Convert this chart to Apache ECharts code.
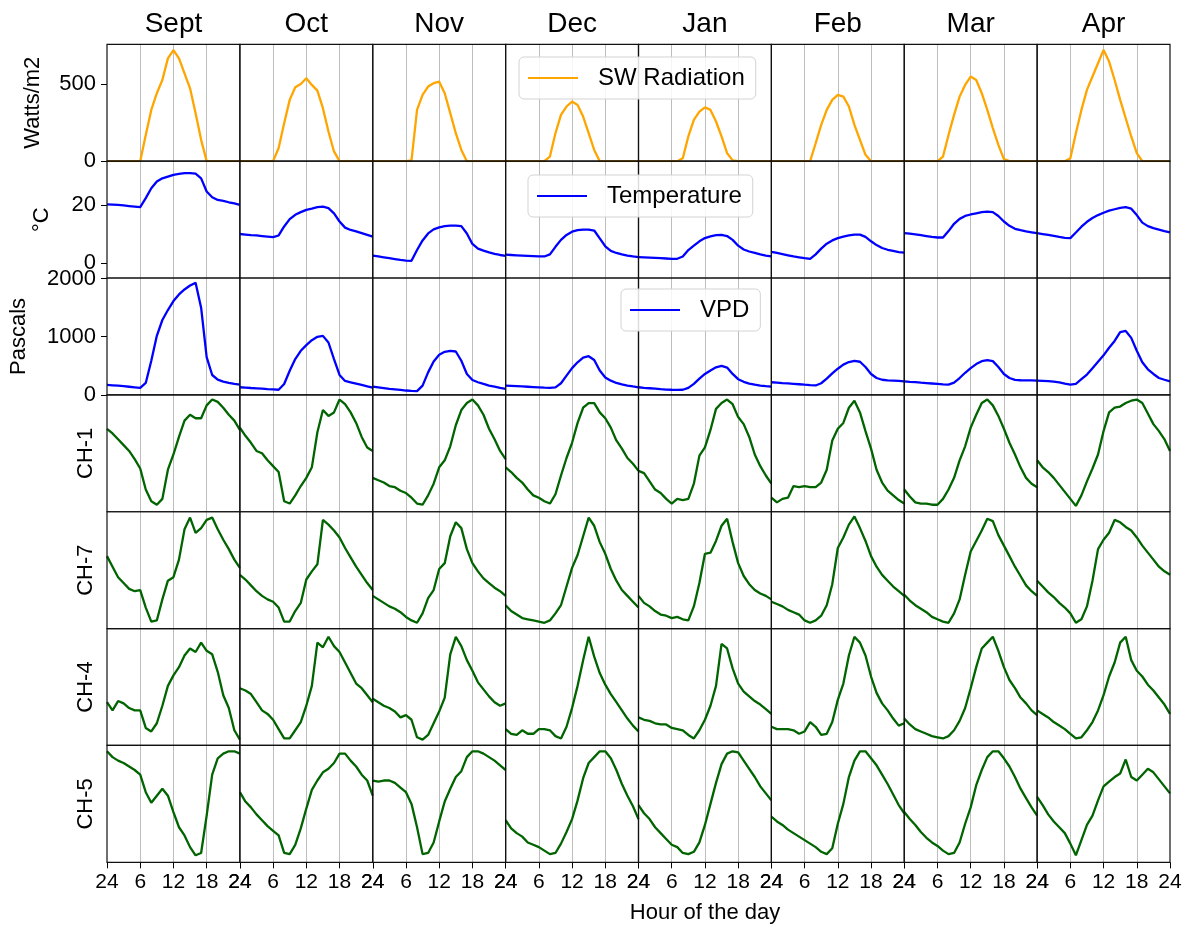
<!DOCTYPE html>
<html>
<head>
<meta charset="utf-8">
<script src="https://cdn.jsdelivr.net/npm/echarts@6/dist/echarts.min.js"></script>
<style>html,body{margin:0;padding:0;background:#fff}#chart{width:1190px;height:928px}</style>
</head>
<body>
<div id="chart"></div>
<script>
// ---------------- DATA ----------------
const months = ['Sept', 'Oct', 'Nov', 'Dec', 'Jan', 'Feb', 'Mar', 'Apr'];
const hours = [0,1,2,3,4,5,6,7,8,9,10,11,12,13,14,15,16,17,18,19,20,21,22,23,24];
const hourTicks = [0, 6, 12, 18, 24];
const hourTickLabels = ['24', '6', '12', '18', '24'];
const rowLabels = ['Watts/m2', '°C', 'Pascals', 'CH-1', 'CH-7', 'CH-4', 'CH-5'];
const swTicks = [0, 500];
const tempTicks = [0, 20];
const vpdTicks = [0, 1000, 2000];

// SW radiation (W/m2), one list per month
const swRadiation = [
  [0,0,0,0,0,0,0,170,332,440,526,666,720,666,569,472,311,138,0,0,0,0,0,0,0],
  [0,0,0,0,0,0,0,85,246,397,479,500,537,494,457,343,192,63,0,0,0,0,0,0,0],
  [0,0,0,0,0,0,0,5,332,429,483,505,515,440,311,181,73,0,0,0,0,0,0,0,0],
  [0,0,0,0,0,0,0,0,30,181,300,354,386,364,289,181,73,0,0,0,0,0,0,0,0],
  [0,0,0,0,0,0,0,0,19,160,267,321,349,332,257,160,52,5,0,0,0,0,0,0,0],
  [0,0,0,0,0,0,0,0,116,235,332,397,429,418,354,235,138,41,0,0,0,0,0,0,0],
  [0,0,0,0,0,0,0,30,170,300,418,494,548,526,440,332,214,106,13,0,0,0,0,0,0],
  [0,0,0,0,0,0,19,181,332,462,548,634,720,645,526,397,278,160,52,0,0,0,0,0,0]
];
// Air temperature (°C)
const temperature = [
  [20.2,20.1,20.0,19.8,19.6,19.4,19.2,22.3,25.7,28.0,29.1,29.7,30.3,30.6,30.9,30.9,30.7,29.1,24.6,22.6,21.7,21.4,20.9,20.5,20.0],
  [10.0,9.8,9.6,9.5,9.3,9.1,8.9,9.5,12.6,15.1,16.6,17.5,18.3,18.7,19.2,19.4,18.9,17.1,14.3,12.2,11.4,10.9,10.3,9.7,9.1],
  [2.6,2.3,2.0,1.7,1.4,1.1,0.9,0.8,4.5,7.8,10.2,11.6,12.3,12.7,12.9,12.9,12.7,10.2,6.6,5.0,4.3,3.7,3.2,2.8,2.5],
  [2.9,2.8,2.7,2.6,2.5,2.4,2.3,2.3,3.0,5.6,8.0,9.7,10.8,11.3,11.5,11.5,11.2,8.5,5.8,4.2,3.5,3.0,2.6,2.3,2.1],
  [2.1,2.0,1.9,1.8,1.7,1.6,1.5,1.5,2.3,4.5,6.0,7.5,8.6,9.2,9.6,9.7,9.3,8.0,6.0,4.7,4.0,3.5,3.0,2.6,2.3],
  [3.9,3.5,3.1,2.7,2.3,2.0,1.7,1.5,3.0,5.0,6.7,7.8,8.6,9.1,9.5,9.8,9.8,9.0,7.5,6.2,5.2,4.6,4.2,3.8,3.6],
  [10.3,10.1,9.9,9.6,9.3,9.0,8.8,8.8,11.0,13.5,15.2,16.2,16.7,17.1,17.5,17.7,17.5,16.2,14.3,12.8,11.8,11.3,10.9,10.6,10.3],
  [10.3,10.0,9.7,9.4,9.0,8.7,8.6,10.5,12.5,14.2,15.5,16.5,17.3,18.0,18.5,19.0,19.2,18.7,16.5,13.9,12.7,12.0,11.5,11.0,10.6]
];
// Vapour pressure deficit (Pa)
const vpd = [
  [171,165,158,150,140,130,120,205,587,1015,1288,1459,1613,1727,1813,1881,1927,1500,650,342,262,228,205,188,177],
  [131,125,118,112,106,100,95,88,188,416,616,758,855,940,998,1015,901,616,342,239,217,194,171,148,125],
  [142,130,118,105,95,85,75,68,65,160,387,575,689,740,757,746,587,359,256,217,188,160,142,120,103],
  [160,155,150,145,140,135,130,125,122,130,200,330,460,560,640,665,600,420,300,245,205,180,160,145,131],
  [131,122,114,106,98,92,88,85,88,120,190,280,360,420,475,500,470,360,270,225,195,175,160,150,142],
  [217,210,203,197,190,183,175,168,162,200,280,370,450,520,565,585,570,480,360,290,260,250,245,240,233],
  [233,225,218,210,203,196,189,182,176,210,290,380,460,530,580,598,580,480,360,290,258,252,250,248,245],
  [245,240,235,228,215,195,178,190,270,350,460,570,680,810,928,1080,1100,980,760,560,440,360,290,260,233]
];
// Normalised sensor signals (0 = daily min, 1 = daily max)
const ch1 = [
  [0.71,0.67,0.62,0.57,0.52,0.45,0.37,0.19,0.09,0.06,0.11,0.36,0.49,0.64,0.78,0.83,0.80,0.80,0.91,0.96,0.94,0.89,0.83,0.78,0.70],
  [0.72,0.65,0.59,0.52,0.50,0.44,0.39,0.34,0.09,0.07,0.14,0.22,0.29,0.38,0.68,0.87,0.82,0.85,0.96,0.92,0.85,0.76,0.64,0.55,0.52],
  [0.29,0.27,0.25,0.22,0.21,0.18,0.16,0.12,0.07,0.06,0.14,0.24,0.38,0.44,0.56,0.74,0.87,0.93,0.96,0.91,0.83,0.71,0.62,0.52,0.45],
  [0.38,0.34,0.29,0.25,0.19,0.14,0.12,0.09,0.07,0.15,0.31,0.46,0.59,0.76,0.89,0.93,0.93,0.85,0.80,0.72,0.61,0.54,0.46,0.41,0.35],
  [0.35,0.33,0.26,0.19,0.16,0.11,0.07,0.11,0.10,0.11,0.24,0.48,0.55,0.70,0.88,0.93,0.96,0.92,0.81,0.75,0.64,0.49,0.39,0.31,0.24],
  [0.12,0.08,0.11,0.12,0.22,0.21,0.22,0.21,0.21,0.25,0.36,0.61,0.71,0.76,0.89,0.95,0.85,0.69,0.54,0.36,0.25,0.18,0.14,0.10,0.07],
  [0.19,0.13,0.08,0.07,0.07,0.06,0.06,0.11,0.19,0.29,0.44,0.56,0.72,0.83,0.93,0.96,0.91,0.82,0.71,0.59,0.49,0.38,0.29,0.24,0.21],
  [0.44,0.38,0.34,0.29,0.23,0.17,0.11,0.05,0.14,0.26,0.37,0.49,0.69,0.85,0.89,0.90,0.93,0.95,0.96,0.93,0.84,0.75,0.69,0.62,0.52]
];
const ch7 = [
  [0.62,0.53,0.44,0.39,0.34,0.32,0.33,0.18,0.06,0.07,0.25,0.41,0.44,0.59,0.85,0.95,0.82,0.86,0.93,0.95,0.85,0.76,0.68,0.59,0.52],
  [0.46,0.42,0.37,0.32,0.28,0.25,0.23,0.18,0.06,0.06,0.15,0.22,0.42,0.49,0.55,0.93,0.89,0.84,0.78,0.69,0.61,0.53,0.46,0.39,0.33],
  [0.28,0.25,0.22,0.19,0.17,0.14,0.10,0.07,0.05,0.13,0.26,0.33,0.51,0.56,0.79,0.91,0.86,0.68,0.56,0.49,0.43,0.39,0.35,0.32,0.28],
  [0.20,0.15,0.12,0.09,0.08,0.07,0.06,0.05,0.07,0.13,0.20,0.36,0.52,0.63,0.79,0.95,0.88,0.74,0.64,0.51,0.41,0.33,0.28,0.23,0.18],
  [0.28,0.22,0.19,0.15,0.12,0.11,0.09,0.10,0.08,0.07,0.19,0.39,0.64,0.65,0.75,0.88,0.94,0.74,0.56,0.45,0.38,0.33,0.30,0.28,0.25],
  [0.23,0.21,0.19,0.16,0.14,0.12,0.07,0.05,0.07,0.11,0.20,0.38,0.69,0.78,0.89,0.96,0.86,0.75,0.62,0.53,0.46,0.41,0.36,0.32,0.28],
  [0.29,0.24,0.20,0.17,0.14,0.10,0.08,0.06,0.05,0.13,0.25,0.46,0.66,0.75,0.84,0.94,0.92,0.80,0.71,0.62,0.53,0.45,0.37,0.32,0.28],
  [0.41,0.36,0.31,0.27,0.22,0.18,0.13,0.05,0.08,0.19,0.41,0.68,0.76,0.82,0.93,0.91,0.87,0.84,0.78,0.71,0.65,0.59,0.53,0.49,0.46]
];
const ch4 = [
  [0.37,0.30,0.38,0.36,0.32,0.30,0.30,0.15,0.12,0.19,0.34,0.51,0.60,0.67,0.77,0.83,0.80,0.88,0.81,0.78,0.63,0.43,0.32,0.13,0.05],
  [0.49,0.47,0.44,0.37,0.30,0.27,0.22,0.14,0.06,0.06,0.13,0.20,0.34,0.51,0.88,0.84,0.93,0.85,0.80,0.71,0.62,0.53,0.49,0.43,0.37],
  [0.40,0.37,0.34,0.32,0.29,0.24,0.26,0.22,0.07,0.05,0.09,0.19,0.29,0.41,0.78,0.93,0.85,0.73,0.64,0.54,0.48,0.42,0.37,0.34,0.36],
  [0.14,0.10,0.09,0.13,0.10,0.10,0.14,0.14,0.13,0.08,0.06,0.16,0.32,0.51,0.73,0.93,0.76,0.62,0.52,0.44,0.37,0.30,0.23,0.17,0.12],
  [0.24,0.22,0.21,0.19,0.18,0.18,0.15,0.14,0.13,0.09,0.06,0.13,0.22,0.34,0.51,0.87,0.83,0.66,0.53,0.46,0.42,0.38,0.35,0.31,0.27],
  [0.16,0.14,0.14,0.14,0.13,0.10,0.12,0.20,0.16,0.09,0.10,0.20,0.39,0.53,0.77,0.93,0.88,0.77,0.59,0.45,0.36,0.30,0.23,0.17,0.19],
  [0.23,0.18,0.14,0.12,0.10,0.08,0.07,0.06,0.08,0.13,0.21,0.32,0.49,0.67,0.83,0.88,0.93,0.81,0.67,0.56,0.49,0.41,0.36,0.30,0.26],
  [0.30,0.27,0.24,0.20,0.17,0.14,0.10,0.06,0.07,0.13,0.20,0.30,0.43,0.59,0.71,0.88,0.93,0.73,0.64,0.59,0.52,0.47,0.41,0.35,0.27]
];
const ch5 = [
  [0.95,0.90,0.87,0.85,0.82,0.79,0.75,0.60,0.51,0.57,0.63,0.57,0.43,0.30,0.23,0.13,0.06,0.08,0.40,0.75,0.89,0.93,0.95,0.95,0.93],
  [0.60,0.52,0.47,0.41,0.36,0.31,0.27,0.23,0.08,0.07,0.15,0.29,0.46,0.62,0.70,0.77,0.80,0.85,0.93,0.93,0.87,0.82,0.75,0.70,0.57],
  [0.70,0.69,0.70,0.70,0.68,0.64,0.60,0.50,0.30,0.07,0.08,0.17,0.35,0.52,0.63,0.73,0.78,0.90,0.95,0.95,0.93,0.90,0.87,0.83,0.79],
  [0.36,0.29,0.25,0.22,0.17,0.15,0.13,0.10,0.07,0.08,0.16,0.26,0.37,0.53,0.72,0.85,0.90,0.95,0.95,0.89,0.79,0.67,0.57,0.48,0.37],
  [0.49,0.42,0.37,0.30,0.25,0.20,0.15,0.13,0.08,0.07,0.09,0.17,0.32,0.50,0.68,0.84,0.93,0.95,0.94,0.87,0.80,0.73,0.65,0.59,0.53],
  [0.39,0.35,0.32,0.28,0.25,0.22,0.19,0.16,0.13,0.09,0.07,0.12,0.33,0.50,0.73,0.87,0.95,0.95,0.89,0.83,0.75,0.67,0.58,0.49,0.42],
  [0.43,0.37,0.32,0.26,0.21,0.17,0.14,0.10,0.07,0.08,0.17,0.33,0.47,0.66,0.79,0.90,0.95,0.95,0.89,0.82,0.73,0.63,0.55,0.47,0.40],
  [0.56,0.49,0.41,0.35,0.30,0.25,0.16,0.06,0.19,0.32,0.40,0.53,0.65,0.69,0.73,0.76,0.88,0.73,0.70,0.75,0.80,0.77,0.71,0.65,0.59]
];

// ---------------- LAYOUT / STYLE ----------------
const FONT = '"Liberation Sans", Arial, Helvetica, sans-serif';
const L = 107, T = 44.3, CW = 132.875, RH = 116.86;
const rows = [
  { data: swRadiation, name: 'SW Radiation', color: '#ffa500', min: 0, max: 757, ticks: swTicks },
  { data: temperature, name: 'Temperature', color: '#0000ff', min: -5.1, max: 35, ticks: tempTicks },
  { data: vpd, name: 'VPD', color: '#0000ff', min: 0, max: 2010, ticks: vpdTicks },
  { data: ch1, name: 'CH-1', color: '#006400', min: 0, max: 1, ticks: null },
  { data: ch7, name: 'CH-7', color: '#006400', min: 0, max: 1, ticks: null },
  { data: ch4, name: 'CH-4', color: '#006400', min: 0, max: 1, ticks: null },
  { data: ch5, name: 'CH-5', color: '#006400', min: 0, max: 1, ticks: null }
];
const nRows = rows.length, nCols = months.length;

const grid = [], xAxis = [], yAxis = [], series = [];
rows.forEach((row, r) => {
  months.forEach((m, c) => {
    const idx = r * nCols + c;
    grid.push({
      left: L + c * CW, top: T + r * RH, width: CW, height: RH,
      show: true, borderColor: '#111', borderWidth: 1.2, backgroundColor: 'transparent', z: 3
    });
    const bottom = r === nRows - 1;
    xAxis.push({
      type: 'value', gridIndex: idx, min: 0, max: 24, interval: 6,
      axisLine: { show: false },
      axisTick: { show: bottom, length: 6, lineStyle: { color: '#000', width: 1 } },
      axisLabel: {
        show: bottom, fontSize: 21, color: '#000', fontFamily: FONT, margin: 9,
        formatter: v => hourTickLabels[hourTicks.indexOf(v)]
      },
      splitLine: { show: true, showMinLine: false, showMaxLine: false, lineStyle: { color: '#bdbdbd', width: 1 } }
    });
    const showY = c === 0 && !!row.ticks;
    yAxis.push({
      type: 'value', gridIndex: idx, min: row.min, max: row.max,
      axisLine: { show: false },
      splitLine: { show: false },
      axisTick: showY ? { show: true, customValues: row.ticks, length: 6, lineStyle: { color: '#000', width: 1 } } : { show: false },
      axisLabel: showY ? { show: true, customValues: row.ticks, fontSize: 22, color: '#000', fontFamily: FONT, margin: 11, formatter: v => String(v) } : { show: false }
    });
    series.push({
      type: 'line',
      name: r < 3 ? row.name : row.name + ' ' + m,
      xAxisIndex: idx, yAxisIndex: idx,
      data: hours.map((h, k) => [h, row.data[c][k]]),
      showSymbol: false, symbol: 'none',
      lineStyle: { color: row.color, width: 2.3 },
      itemStyle: { color: row.color },
      z: 2, animation: false
    });
  });
});

const legendBase = {
  orient: 'horizontal', selectedMode: false,
  icon: 'rect', itemWidth: 50, itemHeight: 2,
  padding: [9, 11, 9, 9],
  textStyle: { fontSize: 24, color: '#000', fontFamily: FONT, padding: [0, 0, 0, 15] },
  borderColor: '#d3d3d3', borderWidth: 1, borderRadius: 5,
  backgroundColor: 'rgba(255,255,255,0.85)', z: 10
};
const legend = [
  Object.assign({}, legendBase, { data: ['SW Radiation'], left: 519, top: 57 }),
  Object.assign({}, legendBase, { data: ['Temperature'], left: 528, top: 175 }),
  Object.assign({}, legendBase, { data: ['VPD'], left: 621, top: 289 })
];

const graphic = [];
months.forEach((m, c) => {
  graphic.push({
    type: 'text', x: L + (c + 0.5) * CW, y: 24,
    style: { text: m, font: '28px ' + FONT, fill: '#000', textAlign: 'center', textVerticalAlign: 'middle' }
  });
});
const rowLabelX = [33, 42, 19, 86, 86, 86, 86];
rowLabels.forEach((lab, r) => {
  graphic.push({
    type: 'text', x: rowLabelX[r], y: T + (r + 0.5) * RH, rotation: Math.PI / 2,
    style: { text: lab, font: '22px ' + FONT, fill: '#000', textAlign: 'center', textVerticalAlign: 'middle' }
  });
});
graphic.push({
  type: 'text', x: 705, y: 913,
  style: { text: 'Hour of the day', font: '22px ' + FONT, fill: '#000', textAlign: 'center', textVerticalAlign: 'middle' }
});

const chart = echarts.init(document.getElementById('chart'), null, { renderer: 'canvas' });
chart.setOption({
  animation: false,
  backgroundColor: '#fff',
  grid, xAxis, yAxis, series, legend, graphic
});
</script>
</body>
</html>
